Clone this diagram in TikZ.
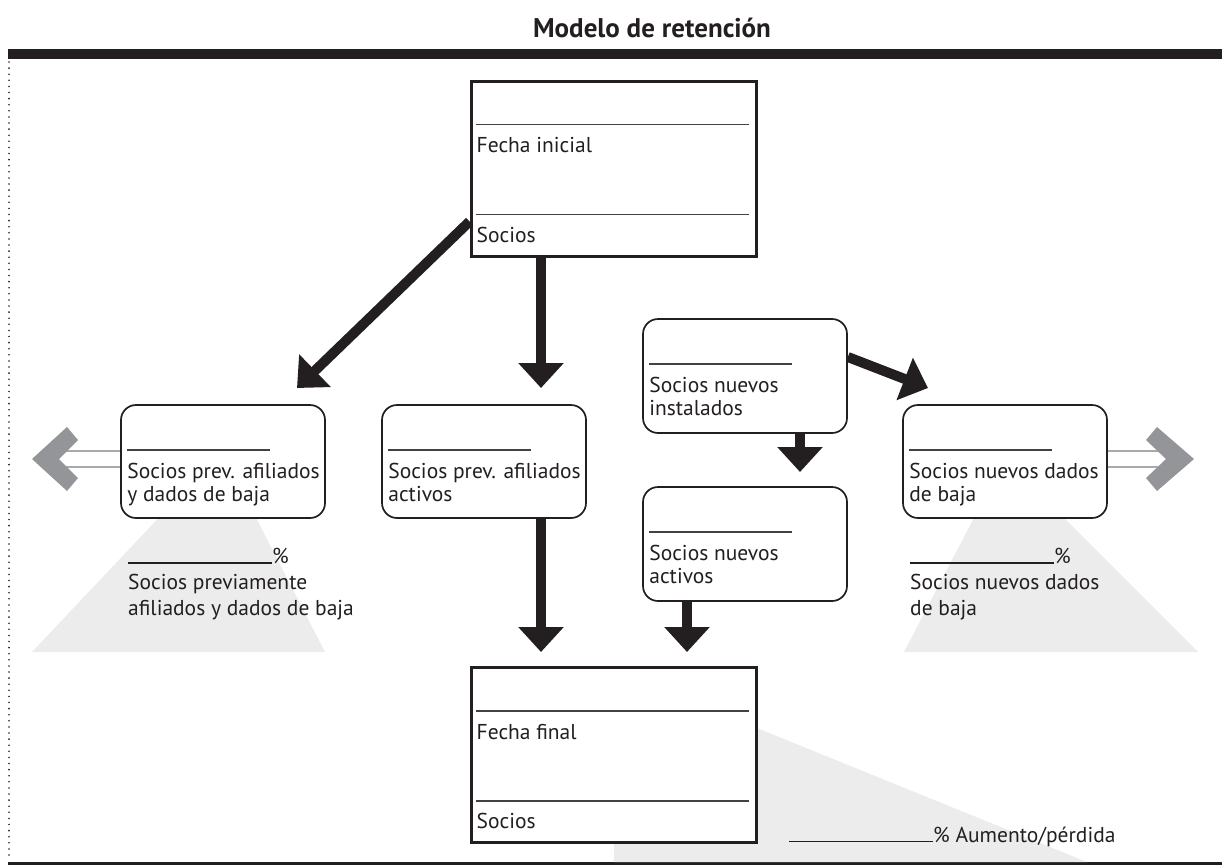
\documentclass[tikz,border=0pt]{standalone}
\usepackage{fontspec}
\setmainfont{PT Sans}
\usepackage{tikz}
\usetikzlibrary{arrows.meta, positioning, calc}

\definecolor{ink}{HTML}{231F20}
\definecolor{lightshade}{HTML}{ECECEC}
\definecolor{chevgray}{HTML}{939598}
\definecolor{railgray}{HTML}{A7A9AC}

\tikzset{
  sqbox/.style={draw=ink, fill=white, line width=3pt, minimum width=285pt, minimum height=175pt, inner sep=0pt},
  rbox/.style={draw=ink, fill=white, line width=1.7pt, rounded corners=15pt, minimum width=204pt, minimum height=113pt, inner sep=0pt},
  blank/.style={draw=ink!85, line width=1.4pt},
  lbl/.style={anchor=west, inner sep=0pt, text=ink, font=\fontsize{21.5}{24}\selectfont},
  lbltwo/.style={anchor=north west, inner sep=0pt, align=left, text=ink, font=\fontsize{21.5}{22.5}\selectfont},
  pct/.style={anchor=north west, inner sep=0pt, align=left, text=ink, font=\fontsize{21.5}{26}\selectfont},
  flow/.style={draw=ink, line width=10pt, -{Triangle[width=44pt,length=25pt]}},
  rail/.style={draw=railgray, line width=2.5pt},
}

\begin{document}
\begin{tikzpicture}[x=1pt, y=-1pt]
  \useasboundingbox (0,0) rectangle (1222,867);

  % --- Title and frame ---
  \node[text=ink, font=\fontsize{27}{30}\selectfont\bfseries] (titulo) at (652,28) {Modelo de retención};
  \fill[ink] (8,49) rectangle (1222,59);
  \fill[ink] (8,862) rectangle (1222,865);
  \draw[ink, line width=1.8pt, line cap=round, dash pattern=on 0pt off 6.1pt] (9,62) -- (9,858);

  % --- Light gray shading ---
  \fill[lightshade] (166,510) -- (252,510) -- (325,652) -- (32,652) -- cycle;
  \fill[lightshade] (978,510) -- (1056,510) -- (1198,652) -- (904,652) -- cycle;
  \fill[lightshade] (614,670) -- (1087,862) -- (614,862) -- cycle;

  % --- Boxes ---
  \node[sqbox] (inicio) at (613.5,168.5) {};
  \node[sqbox] (final) at (613.5,755) {};
  \node[rbox] (prevbaja) at (223,461.5) {};
  \node[rbox] (prevact) at (484,461.5) {};
  \node[rbox, minimum height=114pt] (nuevinst) at (745,376) {};
  \node[rbox, minimum height=114pt] (nuevact) at (745,544) {};
  \node[rbox] (nuevbaja) at (1005,461.5) {};

  % square boxes: blank + label, twice
  \foreach \b/\t in {inicio/Fecha inicial, final/Fecha final} {
    \draw[blank] ($(\b.north west)+(6,45)$) -- ($(\b.north east)+(-9,45)$);
    \node[lbl] (\b-fecha) at ($(\b.north west)+(7,66)$) {\t};
    \draw[blank] ($(\b.north west)+(6,135)$) -- ($(\b.north east)+(-9,135)$);
    \node[lbl] (\b-socios) at ($(\b.north west)+(7,155)$) {Socios};
  }

  % rounded boxes: blank + two-line label
  \foreach \b/\t in {prevbaja/{Socios prev. afiliados\\y dados de baja},
                     prevact/{Socios prev. afiliados\\activos},
                     nuevinst/{Socios nuevos\\instalados},
                     nuevact/{Socios nuevos\\activos},
                     nuevbaja/{Socios nuevos dados\\de baja}} {
    \draw[blank] ($(\b.north west)+(7,46)$) -- ++(143,0);
    \node[lbltwo] (\b-txt) at ($(\b.north west)+(7,59)$) {\t};
  }

  % --- Gray exit arrows ---
  \draw[rail] ($(prevbaja.west)+(0,-10.5)$) -- ++(-58,0);
  \draw[rail] ($(prevbaja.west)+(0,5.5)$) -- ++(-58,0);
  \fill[chevgray] (67,427) -- (32,459) -- (67,491) -- (78,478) -- (59,459) -- (78,440) -- cycle;
  \draw[rail] ($(nuevbaja.east)+(0,-10.5)$) -- ++(60,0);
  \draw[rail] ($(nuevbaja.east)+(0,5.5)$) -- ++(60,0);
  \fill[chevgray] (1157,427) -- (1194,459) -- (1157,491) -- (1146,478) -- (1166,459) -- (1146,440) -- cycle;

  % --- Black flow arrows ---
  \coordinate (tipA) at (297,388);
  \coordinate (tipB) at (541,388);
  \coordinate (tipC) at (541,652);
  \coordinate (tipD) at (687,652);
  \coordinate (tipE) at (800,472);
  \coordinate (tipF) at (928,388);
  \draw[flow] ($(inicio.south west)+(0,-36)$) -- (tipA);
  \draw[flow] (inicio.south -| tipB) -- (tipB);
  \draw[flow] (prevact.south -| tipC) -- (tipC);
  \draw[flow] (nuevact.south -| tipD) -- (tipD);
  \draw[flow] (nuevinst.south -| tipE) -- (tipE);
  \draw[flow] ($(nuevinst.east)+(0,-19)$) -- (tipF);

  % --- Percentage labels ---
  \node[pct] (pctprev) at (128,548) {\rule{144pt}{1.3pt}\%\\Socios previamente\\afiliados y dados de baja};
  \node[pct] (pctnuev) at (910,548) {\rule{144pt}{1.3pt}\%\\Socios nuevos dados\\de baja};
  \node[anchor=base west, inner sep=0pt, text=ink, font=\fontsize{21.5}{24}\selectfont] (pcttotal) at (789,842) {\rule{144pt}{1.3pt}\% Aumento/pérdida};
\end{tikzpicture}
\end{document}
